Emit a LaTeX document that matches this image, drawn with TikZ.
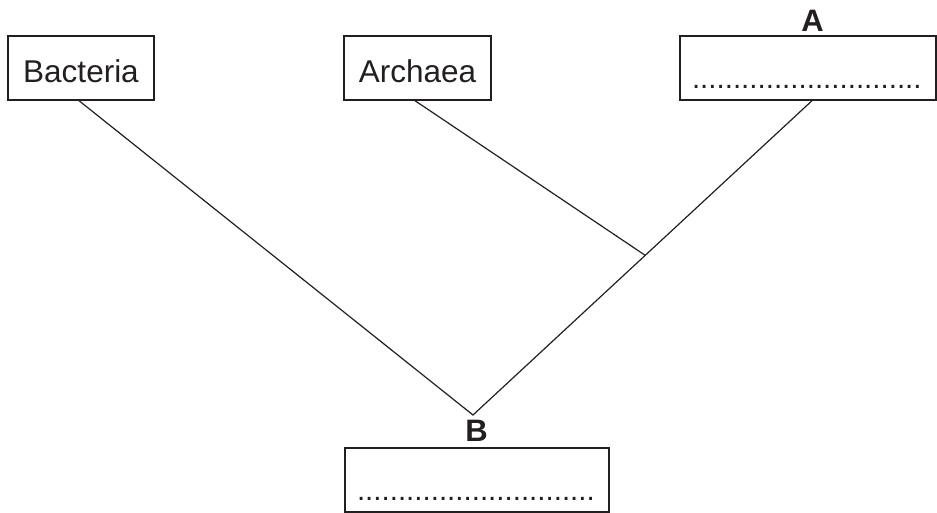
\documentclass[tikz,border=0pt]{standalone}
\usepackage{fontspec}
\setmainfont{Liberation Sans}
\usetikzlibrary{calc}
\definecolor{ink}{RGB}{35,31,32}
\begin{document}
\begin{tikzpicture}[x=1pt,y=-1pt,
  box/.style={draw=ink, text=ink, line width=1.4pt, minimum height=64pt, inner sep=0pt,
    font=\fontsize{31.5}{36}\selectfont, text height=30pt, text depth=0pt},
  dotbox/.style={box, align=left, inner xsep=12pt, font=\fontsize{29.5}{36}\selectfont},
  tag/.style={text=ink, inner sep=0pt, font=\fontsize{31}{36}\selectfont\bfseries},
  branch/.style={draw=ink, line width=1.2pt}
]
\useasboundingbox (0,0) rectangle (937,513);
\node[box, minimum width=146pt] (bac) at (81,68) {Bacteria};
\node[box, minimum width=147pt] (arc) at (417.5,68) {Archaea};
\node[dotbox, text width=232pt, text height=42pt] (a) at (808,68) {............................};
\node[dotbox, text width=240pt, text height=40pt] (b) at (477,480) {.............................};
\node[tag] (la) at (812.5,21) {A};
\node[tag] (lb) at (476.5,431) {B};
\coordinate (apex) at (473,415);
\coordinate (atop) at ([xshift=4pt]a.south);
\coordinate (j) at ($(apex)!0.508!(atop)$);
\draw[branch] ([xshift=-2pt]bac.south) -- (apex) -- (atop);
\draw[branch] ([xshift=-2.5pt]arc.south) -- (j);
\end{tikzpicture}
\end{document}
